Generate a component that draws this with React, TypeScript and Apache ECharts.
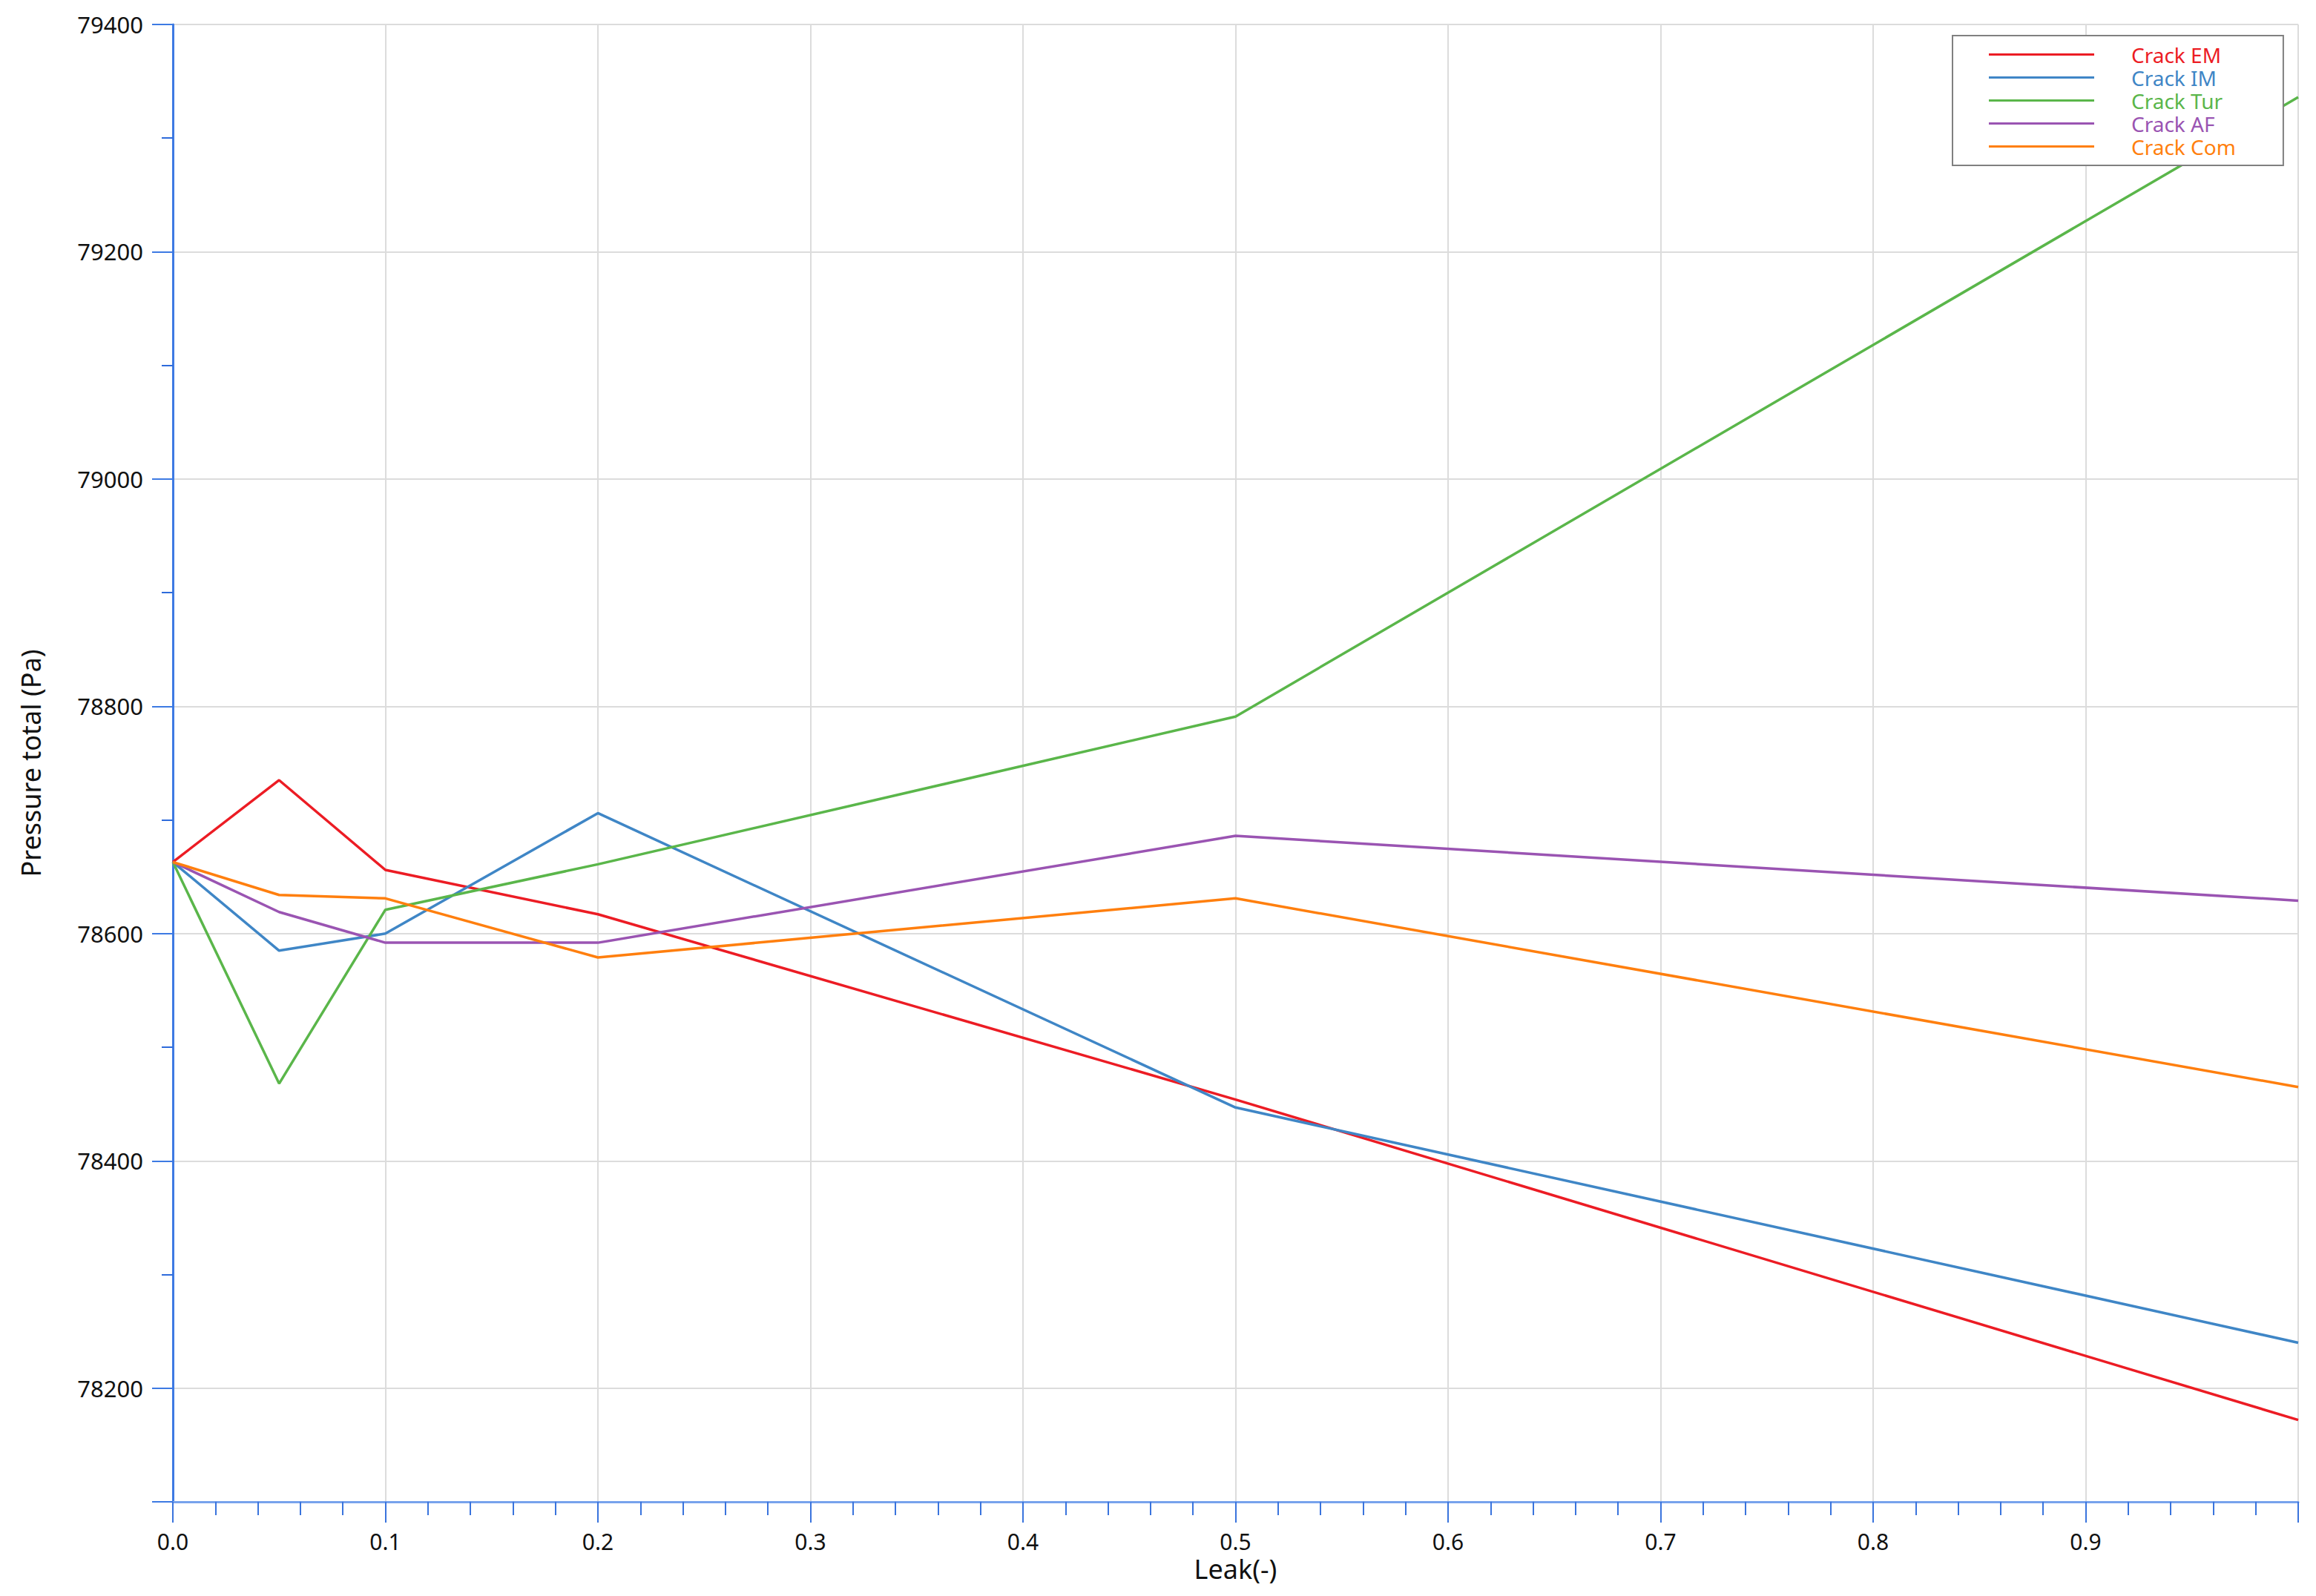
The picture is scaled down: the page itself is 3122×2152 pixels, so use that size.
import React, { useEffect, useRef } from "react";
import * as echarts from "echarts";

const xValues = [0, 0.05, 0.1, 0.2, 0.5, 1.0];
const crackEM = [78663, 78735, 78656, 78617, 78454, 78172];
const crackIM = [78663, 78585, 78600, 78706, 78447, 78240];
const crackTur = [78663, 78468, 78621, 78661, 78791, 79336];
const crackAF = [78663, 78619, 78592, 78592, 78686, 78629];
const crackCom = [78663, 78634, 78631, 78579, 78631, 78465];

const seriesNames = ["Crack EM", "Crack IM", "Crack Tur", "Crack AF", "Crack Com"];
const seriesValues = [crackEM, crackIM, crackTur, crackAF, crackCom];
const seriesColors = ["#ec1c24", "#3f86c6", "#5ab64a", "#9a54b2", "#ff7f0e"];

const yMin = 78100;
const yMax = 79400;
const FONT = "Noto Sans";

export default function App() {
  const ref = useRef<HTMLDivElement>(null);

  useEffect(() => {
    if (!ref.current) return;
    const chart = echarts.init(ref.current, undefined, { renderer: "svg" });
    const option: any = {
      animation: false,
      backgroundColor: "#ffffff",
      textStyle: { fontFamily: FONT },
      grid: { left: 233, right: 24, top: 33, bottom: 127, containLabel: false },
      legend: {
        left: 2632,
        top: 48,
        orient: "vertical",
        padding: [10, 64, 10, 49],
        borderColor: "#808080",
        borderWidth: 2,
        backgroundColor: "#ffffff",
        itemWidth: 142,
        itemHeight: 3,
        itemGap: 0,
        data: seriesNames.map((n, i) => ({
          name: n,
          icon: "rect",
          itemStyle: { color: seriesColors[i] },
          textStyle: { color: seriesColors[i] },
        })),
        textStyle: {
          fontFamily: FONT,
          fontSize: 28,
          lineHeight: 31,
          padding: [0, 0, 0, 45],
        },
      },
      xAxis: {
        type: "value",
        min: 0,
        max: 1,
        interval: 0.1,
        name: "Leak(-)",
        nameLocation: "middle",
        nameGap: 70,
        nameTextStyle: { fontFamily: FONT, fontSize: 36, color: "#111" },
        axisLine: { show: true, lineStyle: { color: "#77a2ec", width: 3 } },
        axisTick: { show: true, length: 28, lineStyle: { color: "#3a74dd", width: 2 } },
        minorTick: { show: true, splitNumber: 5, length: 18, lineStyle: { color: "#3a74dd", width: 2 } },
        axisLabel: {
          margin: 38,
          fontFamily: FONT,
          fontSize: 30,
          color: "#111",
          formatter: (v: number) => (v >= 0.999 ? "" : v.toFixed(1)),
        },
        splitLine: { show: true, lineStyle: { color: "#dcdcdc", width: 2 } },
      },
      yAxis: [
        {
          type: "value",
          min: yMin,
          max: yMax,
          interval: 100,
          position: "left",
          name: "Pressure total (Pa)",
          nameLocation: "middle",
          nameGap: 174,
          nameTextStyle: { fontFamily: FONT, fontSize: 36, color: "#111" },
          axisLine: { show: true, lineStyle: { color: "#3d7ae3", width: 3 } },
          axisTick: { show: true, length: 15, lineStyle: { color: "#2e6bdb", width: 2 } },
          axisLabel: {
            margin: 40,
            fontFamily: FONT,
            fontSize: 31,
            color: "#111",
            formatter: (v: number) => (Math.round(v) % 200 === 0 ? String(Math.round(v)) : ""),
          },
          splitLine: { show: false },
        },
        {
          type: "value",
          inverse: true,
          min: -yMax,
          max: -yMin,
          interval: 200,
          position: "left",
          axisLine: { show: false },
          axisTick: { show: true, length: 28, lineStyle: { color: "#3d7ae3", width: 2 } },
          axisLabel: { show: false },
          splitLine: { show: true, lineStyle: { color: "#dcdcdc", width: 2 } },
        },
      ],
      series: seriesNames.map((n, i) => ({
        name: n,
        type: "line",
        yAxisIndex: 0,
        symbol: "none",
        showSymbol: false,
        lineStyle: { color: seriesColors[i], width: 3.5 },
        itemStyle: { color: seriesColors[i] },
        data: xValues.map((x, k) => [x, seriesValues[i][k]]),
        z: 3,
      })),
    };
    chart.setOption(option);
    return () => chart.dispose();
  }, []);

  return (
    <div
      ref={ref}
      style={{ position: "absolute", left: 0, top: 0, width: 3122, height: 2152 }}
    />
  );
}
